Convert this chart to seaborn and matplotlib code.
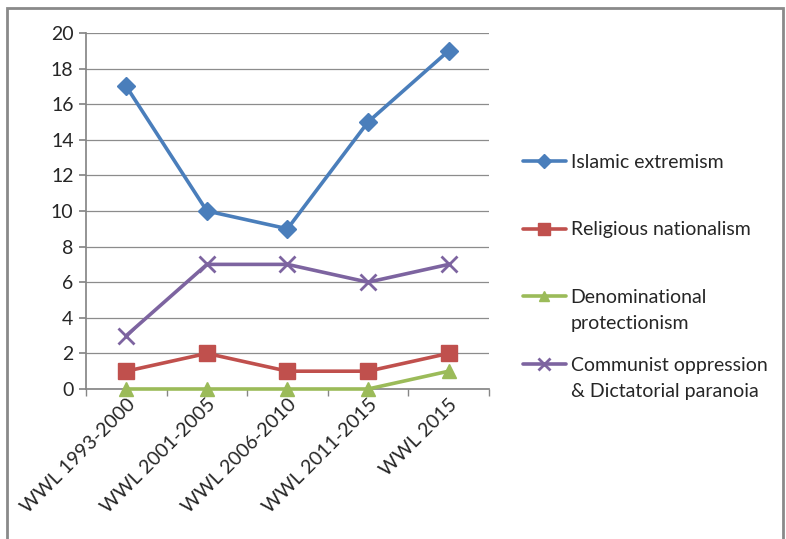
import pandas as pd
import seaborn as sns
from matplotlib import pyplot as plt
from matplotlib.patches import Rectangle

periods = ['WWL 1993-2000', 'WWL 2001-2005', 'WWL 2006-2010', 'WWL 2011-2015', 'WWL 2015']
islamic = [17, 10, 9, 15, 19]
religious = [1, 2, 1, 1, 2]
denominational = [0, 0, 0, 0, 1]
communist = [3, 7, 7, 6, 7]

series_names = ['Islamic extremism', 'Religious nationalism',
                'Denominational', 'Communist oppression']
second_lines = ['', '', 'protectionism', '& Dictatorial paranoia']
series_values = [islamic, religious, denominational, communist]
colors = ['#4A7EBB', '#C0504D', '#9BBB59', '#7D64A0']
markers = ['D', 's', '^', 'x']
msizes = [9, 11, 10, 12]

df = pd.DataFrame([[p, v, name] for name, vals in zip(series_names, series_values)
                   for p, v in zip(periods, vals)], columns=['period', 'value', 'series'])

sns.set_theme(style='white')
plt.rcParams['font.family'] = ['Lato', 'DejaVu Sans']
fs = 14

fig = plt.figure(figsize=(7.86, 5.39), dpi=100)
ax = fig.add_axes([0.1094, 0.2783, 0.5127, 0.6605])

for name, c, m, ms in zip(series_names, colors, markers, msizes):
    sns.lineplot(data=df[df.series == name], x='period', y='value', color=c, marker=m,
                 markersize=ms, markeredgecolor=c, markeredgewidth=2 if m == 'x' else 1,
                 linewidth=2.6, sort=False, label=name, clip_on=False, zorder=3, ax=ax)

ax.set_xlim(-0.5, 4.5)
ax.set_ylim(0, 20)
ax.set_yticks(range(0, 21, 2))
ax.set_xticks([i - 0.5 for i in range(6)], minor=True)
ax.set_xticks(range(5))
ax.set_xticklabels(periods, rotation=45, ha='right', rotation_mode='anchor', fontsize=fs)
ax.tick_params(axis='y', labelsize=fs, length=5, color='#868686', left=True, pad=4)
ax.tick_params(axis='x', which='major', length=0, pad=5)
ax.tick_params(axis='x', which='minor', length=5, color='#868686', bottom=True)
ax.yaxis.grid(True, color='#8c8c8c', linewidth=0.9)
ax.set_axisbelow(True)
for s in ['top', 'right']:
    ax.spines[s].set_visible(False)
for s in ['left', 'bottom']:
    ax.spines[s].set_color('#868686')
ax.set_xlabel('')
ax.set_ylabel('')
ax.get_legend().remove()

handles, labels = ax.get_legend_handles_labels()
leg = fig.legend(handles, labels, loc='upper left', bbox_to_anchor=(0.643, 0.747), frameon=False,
                 fontsize=fs, labelspacing=2.6, handlelength=2.2, handletextpad=0.25,
                 markerscale=0.75)

# continuation lines of the two-line legend labels, placed under the first line
fig.canvas.draw()
for txt, extra in zip(leg.get_texts(), second_lines):
    if extra:
        bb = txt.get_window_extent().transformed(fig.transFigure.inverted())
        fig.text(bb.x0, bb.y0 - 26 / 539, extra, fontsize=fs, va='bottom', ha='left')

fig.patches.append(Rectangle((0.009, -0.01), 0.987, 0.995, transform=fig.transFigure,
                             fill=False, edgecolor='#8a8a8a', linewidth=2))

fig.savefig('out.png', dpi=100)
